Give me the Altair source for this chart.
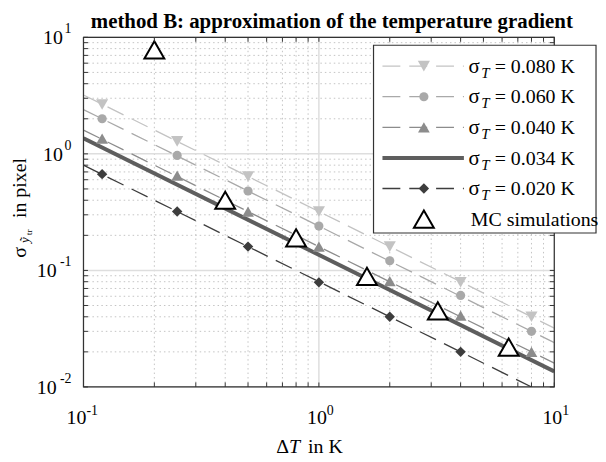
import altair as alt
import pandas as pd

FONT = "Liberation Serif"
W, H = 474, 352

# ---------------- data ----------------
title_text = "method B: approximation of the temperature gradient"

x_markers = [0.12, 0.25, 0.5, 1, 2, 4, 8]
s080 = [2.65, 1.28, 0.64, 0.32, 0.16, 0.079, 0.040]
s060 = [2.0, 0.97, 0.48, 0.24, 0.121, 0.061, 0.030]
s040 = [1.35, 0.65, 0.32, 0.16, 0.081, 0.041, 0.020]
s020 = [0.67, 0.32, 0.16, 0.079, 0.040, 0.020]

line_x = [0.1, 10]
l080 = [3.2, 0.032]
l060 = [2.4, 0.024]
l040 = [1.6, 0.016]
l034 = [1.36, 0.0136]
l020 = [0.8, 0.008]

mc_x = [0.2, 0.4, 0.8, 1.6, 3.2, 6.4]
mc_y = [7.8, 0.40, 0.19, 0.089, 0.045, 0.022]

decades_x = [0.1, 1, 10]
exp_x = ["-1", "0", "1"]
decades_y = [0.01, 0.1, 1, 10]
exp_y = ["-2", "-1", "0", "1"]
minor_x = [0.2, 0.3, 0.4, 0.5, 0.6, 0.7, 0.8, 0.9, 2, 3, 4, 5, 6, 7, 8, 9]
minor_y = [0.02, 0.03, 0.04, 0.05, 0.06, 0.07, 0.08, 0.09,
           0.2, 0.3, 0.4, 0.5, 0.6, 0.7, 0.8, 0.9,
           2, 3, 4, 5, 6, 7, 8, 9]

legend_values = ["= 0.080 K", "= 0.060 K", "= 0.040 K", "= 0.034 K", "= 0.020 K"]
mc_label = "MC simulations"
x_title_parts = ["Δ", "T", "in K"]
y_title_parts = ["σ", "ỹ", "tr", "in pixel"]

# ---------------- styles ----------------
C080, C060, C040, C034, C020 = "#c3c3c3", "#a9a9a9", "#8c8c8c", "#5e5e5e", "#3d3d3d"
AX = "#333333"
DASH = [18, 9]

xs = alt.Scale(type="log", domain=[0.1, 10], nice=False)
ys = alt.Scale(type="log", domain=[0.01, 10], nice=False)


def X(f="x"):
    return alt.X(f"{f}:Q", scale=xs, axis=None)


def Y(f="y"):
    return alt.Y(f"{f}:Q", scale=ys, axis=None)


one = pd.DataFrame({"k": [0]})
layers = []

# grid
layers.append(alt.Chart(pd.DataFrame({"x": minor_x})).mark_rule(
    color="#c4c4c4", strokeWidth=1, strokeDash=[1.5, 3]).encode(x=X()))
layers.append(alt.Chart(pd.DataFrame({"y": minor_y})).mark_rule(
    color="#c4c4c4", strokeWidth=1, strokeDash=[1.5, 3]).encode(y=Y()))
layers.append(alt.Chart(pd.DataFrame({"x": decades_x})).mark_rule(
    color="#dedede", strokeWidth=1.5).encode(x=X()))
layers.append(alt.Chart(pd.DataFrame({"y": decades_y})).mark_rule(
    color="#dedede", strokeWidth=1.5).encode(y=Y()))

# lines
for vals, col in [(l080, C080), (l060, C060), (l040, C040), (l020, C020)]:
    layers.append(alt.Chart(pd.DataFrame({"x": line_x, "y": vals})).mark_line(
        color=col, strokeWidth=1.3, strokeDash=DASH, clip=True).encode(x=X(), y=Y()))
layers.append(alt.Chart(pd.DataFrame({"x": line_x, "y": l034})).mark_line(
    color=C034, strokeWidth=4, clip=True).encode(x=X(), y=Y()))

# markers
for vals, col, shp, sz in [(s080, C080, "triangle-down", 150),
                           (s060, C060, "circle", 85),
                           (s040, C040, "triangle-up", 140),
                           (s020, C020, "diamond", 110)]:
    layers.append(alt.Chart(pd.DataFrame({"x": x_markers[:len(vals)], "y": vals})).mark_point(
        shape=shp, filled=True, color=col, size=sz, opacity=1, clip=True).encode(x=X(), y=Y()))

layers.append(alt.Chart(pd.DataFrame({"x": mc_x, "y": mc_y})).mark_point(
    shape="triangle-up", filled=True, fill="white", stroke="black", strokeWidth=2,
    size=400, opacity=1).encode(x=X(), y=Y()))

# ticks (inward)
tx = pd.DataFrame({"x": decades_x + minor_x})
ty = pd.DataFrame({"y": decades_y + minor_y})
TL = 4.5
layers.append(alt.Chart(tx).mark_rule(color=AX, strokeWidth=1).encode(
    x=X(), y=alt.value(H), y2=alt.value(H - TL)))
layers.append(alt.Chart(tx).mark_rule(color=AX, strokeWidth=1).encode(
    x=X(), y=alt.value(0), y2=alt.value(TL)))
layers.append(alt.Chart(ty).mark_rule(color=AX, strokeWidth=1).encode(
    y=Y(), x=alt.value(0), x2=alt.value(TL)))
layers.append(alt.Chart(ty).mark_rule(color=AX, strokeWidth=1).encode(
    y=Y(), x=alt.value(W), x2=alt.value(W - TL)))

# frame
layers.append(alt.Chart(one).mark_rect(fill="white", fillOpacity=0, stroke=AX, strokeWidth=1.2).encode(
    x=alt.value(0), x2=alt.value(W), y=alt.value(0), y2=alt.value(H)))

# legend
LX0, LX1, LY0, LY1 = 292, 516, 8, 197
layers.append(alt.Chart(one).mark_rect(fill="white", stroke=AX, strokeWidth=1.2).encode(
    x=alt.value(LX0), x2=alt.value(LX1), y=alt.value(LY0), y2=alt.value(LY1)))
rows = [(C080, "triangle-down", 150, True), (C060, "circle", 85, True),
        (C040, "triangle-up", 140, True), (C034, None, 0, False),
        (C020, "diamond", 110, True)]
for i, ((col, shp, sz, dashed), lab) in enumerate(zip(rows, legend_values)):
    cy = 29 + 30.8 * i
    rule_kw = dict(color=col, strokeWidth=1.3, strokeDash=DASH) if dashed else dict(color=col, strokeWidth=4)
    layers.append(alt.Chart(one).mark_rule(**rule_kw).encode(
        x=alt.value(301), x2=alt.value(383), y=alt.value(cy)))
    if shp:
        layers.append(alt.Chart(one).mark_point(shape=shp, filled=True, color=col, size=sz, opacity=1).encode(
            x=alt.value(342.7), y=alt.value(cy)))
    d = pd.DataFrame({"s": [y_title_parts[0]], "t": [x_title_parts[1]], "v": [lab]})
    layers.append(alt.Chart(d).mark_text(font=FONT, fontSize=21, align="left", baseline="alphabetic", color="black").encode(
        x=alt.value(387.5), y=alt.value(cy + 6.7), text="s:N"))
    layers.append(alt.Chart(d).mark_text(font=FONT, fontSize=15, fontStyle="italic", align="left", baseline="alphabetic", color="black").encode(
        x=alt.value(400.5), y=alt.value(cy + 11.7), text="t:N"))
    layers.append(alt.Chart(d).mark_text(font=FONT, fontSize=20, align="left", baseline="alphabetic", color="black").encode(
        x=alt.value(414), y=alt.value(cy + 6.7), text="v:N"))
cy = 29 + 30.8 * 5
layers.append(alt.Chart(one).mark_point(shape="triangle-up", filled=True, fill="white", stroke="black",
                                        strokeWidth=2, size=400, opacity=1).encode(
    x=alt.value(342.7), y=alt.value(cy)))
layers.append(alt.Chart(pd.DataFrame({"v": [mc_label]})).mark_text(
    font=FONT, fontSize=20, align="left", baseline="alphabetic", color="black").encode(
    x=alt.value(390), y=alt.value(cy + 6.7), text="v:N"))

# axis labels
xl = pd.DataFrame({"x": decades_x, "e": exp_x})
yl = pd.DataFrame({"y": decades_y, "e": exp_y})
lab_kw = dict(font=FONT, color="black", baseline="alphabetic")
for n, off in [(1, 8), (2, 3)]:
    sub = alt.Chart(xl).transform_filter(f"length(datum.e) == {n}")
    layers.append(sub.mark_text(text="10", align="right", dx=off, fontSize=20, **lab_kw).encode(
        x=X(), y=alt.value(H + 37.6)))
    layers.append(sub.mark_text(align="left", dx=off, fontSize=14, **lab_kw).encode(
        x=X(), y=alt.value(H + 28.5), text="e:N"))
for n, xr in [(1, -20.7), (2, -27)]:
    sub = alt.Chart(yl).transform_filter(f"length(datum.e) == {n}")
    layers.append(sub.mark_text(text="10", align="right", dy=7, fontSize=20, **lab_kw).encode(
        y=Y(), x=alt.value(xr)))
layers.append(alt.Chart(yl).mark_text(align="right", dy=-4, fontSize=14, **lab_kw).encode(
    y=Y(), x=alt.value(-12), text="e:N"))

# x title
xt = pd.DataFrame({"a": [x_title_parts[0]], "b": [x_title_parts[1]], "c": [x_title_parts[2]]})
layers.append(alt.Chart(xt).mark_text(font=FONT, fontSize=20, align="right", baseline="alphabetic", color="black").encode(
    x=alt.value(207), y=alt.value(418), text="a:N"))
layers.append(alt.Chart(xt).mark_text(font=FONT, fontSize=20, fontStyle="italic", align="left", baseline="alphabetic", color="black").encode(
    x=alt.value(207), y=alt.value(418), text="b:N"))
layers.append(alt.Chart(xt).mark_text(font=FONT, fontSize=20, align="left", baseline="alphabetic", color="black").encode(
    x=alt.value(226), y=alt.value(418), text="c:N"))

# y title (rotated)
ytd = pd.DataFrame({"s": [y_title_parts[0]], "y1": [y_title_parts[1]], "tr": [y_title_parts[2]], "p": [y_title_parts[3]]})
rot = dict(font=FONT, angle=270, align="left", baseline="alphabetic", color="black")
layers.append(alt.Chart(ytd).mark_text(fontSize=20, **rot).encode(
    x=alt.value(-57.5), y=alt.value(222), text="s:N"))
layers.append(alt.Chart(ytd).mark_text(fontSize=13, fontStyle="italic", **rot).encode(
    x=alt.value(-54.5), y=alt.value(207), text="y1:N"))
layers.append(alt.Chart(ytd).mark_text(fontSize=9, **rot).encode(
    x=alt.value(-51.5), y=alt.value(199), text="tr:N"))
layers.append(alt.Chart(ytd).mark_text(fontSize=20, **rot).encode(
    x=alt.value(-57.5), y=alt.value(182), text="p:N"))

# title
layers.append(alt.Chart(pd.DataFrame({"t": [title_text]})).mark_text(
    font=FONT, fontSize=21, fontWeight="bold", align="center", baseline="alphabetic", color="black").encode(
    x=alt.value(250), y=alt.value(-9), text="t:N"))

chart = alt.layer(*layers).properties(
    width=W, height=H,
    padding={"left": 76, "top": 28, "right": 44, "bottom": 70},
    autosize=alt.AutoSizeParams(type="none"),
    background="white",
).configure_view(stroke="transparent")

chart.save("out.html", embed_options={"renderer": "svg", "actions": False})
